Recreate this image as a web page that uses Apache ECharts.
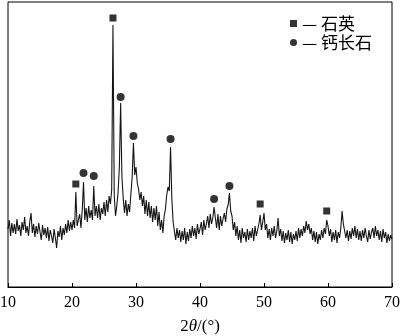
<!DOCTYPE html>
<html>
<head>
<meta charset="utf-8">
<script src="https://cdn.jsdelivr.net/npm/echarts@6/dist/echarts.min.js"></script>
<style>
  html, body { margin: 0; padding: 0; background: #fff; }
  #chart { width: 400px; height: 336px; }
</style>
</head>
<body>
<div id="chart"></div>
<script>
// XRD pattern, 2theta from 10 to 70 deg, one reading every 0.2 deg
const thetaStart = 10;
const thetaStep = 0.2;
const intensity = [
  58, 67, 51, 64, 54,   // 10
  63, 53, 68, 56, 62,   // 11
  51, 65, 57, 70, 54,   // 12
  61, 51, 65, 74, 54,   // 13
  63, 50, 61, 53, 64,   // 14
  55, 47, 62, 52, 59,   // 15
  49, 60, 46, 57, 51,   // 16
  44, 58, 49, 39, 56,   // 17
  50, 61, 47, 59, 52,   // 18
  63, 54, 67, 56, 65,   // 19
  57, 67, 59, 95, 61,   // 20
  67, 73, 59, 77, 105,  // 21
  67, 79, 65, 81, 69,   // 22
  77, 67, 101, 71, 81,  // 23
  69, 83, 67, 79, 73,   // 24
  85, 71, 87, 75, 91,   // 25
  83, 97, 262, 92, 71,  // 26
  81, 95, 120, 184, 110,// 27
  89, 74, 87, 71, 83,   // 28
  75, 93, 110, 144, 112,// 29
  120, 104, 98, 87, 95, // 30
  81, 91, 73, 87, 71,   // 31
  85, 69, 81, 65, 79,   // 32
  67, 81, 61, 75, 57,   // 33
  67, 54, 71, 78, 92,   // 34
  100, 96, 140, 88, 65, // 35
  63, 47, 59, 49, 57,   // 36
  45, 56, 47, 59, 43,   // 37
  55, 46, 58, 49, 61,   // 38
  51, 59, 48, 63, 53,   // 39
  58, 65, 52, 67, 57,   // 40
  63, 71, 59, 73, 63,   // 41
  69, 80, 69, 59, 73,   // 42
  57, 71, 61, 68, 74,   // 43
  65, 78, 82, 94, 76,   // 44
  71, 57, 65, 51, 61,   // 45
  47, 57, 44, 59, 49,   // 46
  55, 45, 58, 47, 56,   // 47
  49, 59, 46, 61, 51,   // 48
  57, 63, 72, 57, 65,   // 49
  74, 57, 63, 49, 58,   // 50
  47, 59, 51, 61, 49,   // 51
  56, 69, 51, 58, 46,   // 52
  56, 44, 54, 47, 57,   // 53
  45, 55, 43, 53, 47,   // 54
  56, 46, 59, 49, 58,   // 55
  51, 61, 54, 66, 57,   // 56
  63, 53, 59, 47, 56,   // 57
  45, 55, 43, 53, 47,   // 58
  57, 49, 59, 53, 67,   // 59
  61, 51, 58, 45, 55,   // 60
  47, 57, 44, 55, 49,   // 61
  59, 76, 63, 56, 49,   // 62
  57, 46, 56, 48, 59,   // 63
  51, 61, 49, 58, 47,   // 64
  56, 46, 57, 49, 59,   // 65
  51, 45, 57, 48, 55,   // 66
  59, 49, 61, 51, 57,   // 67
  47, 56, 45, 58, 49,   // 68
  55, 44, 53, 46, 52,   // 69
  48                    // 70
];

// peak markers
const quartzTheta = [20.6, 26.4, 49.4, 59.8];
const quartzMark = [103, 269, 83, 76];
const anorthiteTheta = [21.8, 23.4, 27.6, 29.6, 35.4, 42.2, 44.6];
const anorthiteMark = [114, 111, 190, 151, 148, 88, 101];

const xMin = 10, xMax = 70, xInterval = 10;

const pattern = intensity.map(function (v, i) {
  return [+(thetaStart + i * thetaStep).toFixed(1), v];
});
const quartzPts = quartzTheta.map(function (t, i) { return [t, quartzMark[i]]; });
const anorthitePts = anorthiteTheta.map(function (t, i) { return [t, anorthiteMark[i]]; });

const chart = echarts.init(document.getElementById('chart'), null, { renderer: 'canvas' });
const serif = '"Liberation Serif", "DejaVu Serif", serif';

const option = {
  backgroundColor: '#ffffff',
  animation: false,
  grid: {
    left: 8, right: 8, top: 2, bottom: 49,
    outerBoundsMode: 'none',
    show: true, borderColor: '#000', borderWidth: 1, backgroundColor: 'transparent'
  },
  legend: {
    orient: 'vertical',
    left: 285,
    top: 10,
    itemWidth: 7,
    itemHeight: 7,
    itemGap: 2,
    selectedMode: false,
    data: [
      { name: '石英', icon: 'rect' },
      { name: '钙长石', icon: 'circle' }
    ],
    formatter: function (name) { return '— ' + name; },
    textStyle: { fontSize: 17, color: '#000', fontFamily: '"Noto Sans CJK SC", sans-serif' }
  },
  xAxis: {
    type: 'value',
    min: xMin,
    max: xMax,
    interval: xInterval,
    name: '{a|2}{b|θ}{a|/(°)}',
    nameLocation: 'middle',
    nameGap: 31,
    nameTextStyle: {
      rich: {
        a: { fontSize: 17, fontFamily: serif, color: '#000' },
        b: { fontSize: 17, fontFamily: serif, fontStyle: 'italic', color: '#000' }
      }
    },
    axisLine: { show: true, lineStyle: { color: '#000', width: 1 } },
    axisTick: { show: true, inside: true, length: 4, lineStyle: { color: '#000' } },
    axisLabel: { fontSize: 16, fontFamily: serif, color: '#000', margin: 8 },
    splitLine: { show: false }
  },
  yAxis: {
    type: 'value',
    min: 0,
    max: 285,
    axisLine: { show: false },
    axisTick: { show: false },
    axisLabel: { show: false },
    splitLine: { show: false }
  },
  series: [
    {
      name: 'XRD',
      type: 'line',
      data: pattern,
      symbol: 'none',
      lineStyle: { color: '#151515', width: 1.1 },
      z: 2
    },
    {
      name: '石英',
      type: 'scatter',
      data: quartzPts,
      symbol: 'rect',
      symbolSize: 7,
      itemStyle: { color: '#000' },
      z: 3
    },
    {
      name: '钙长石',
      type: 'scatter',
      data: anorthitePts,
      symbol: 'circle',
      symbolSize: 8,
      itemStyle: { color: '#000' },
      z: 3
    }
  ]
};

chart.setOption(option);
</script>
</body>
</html>
